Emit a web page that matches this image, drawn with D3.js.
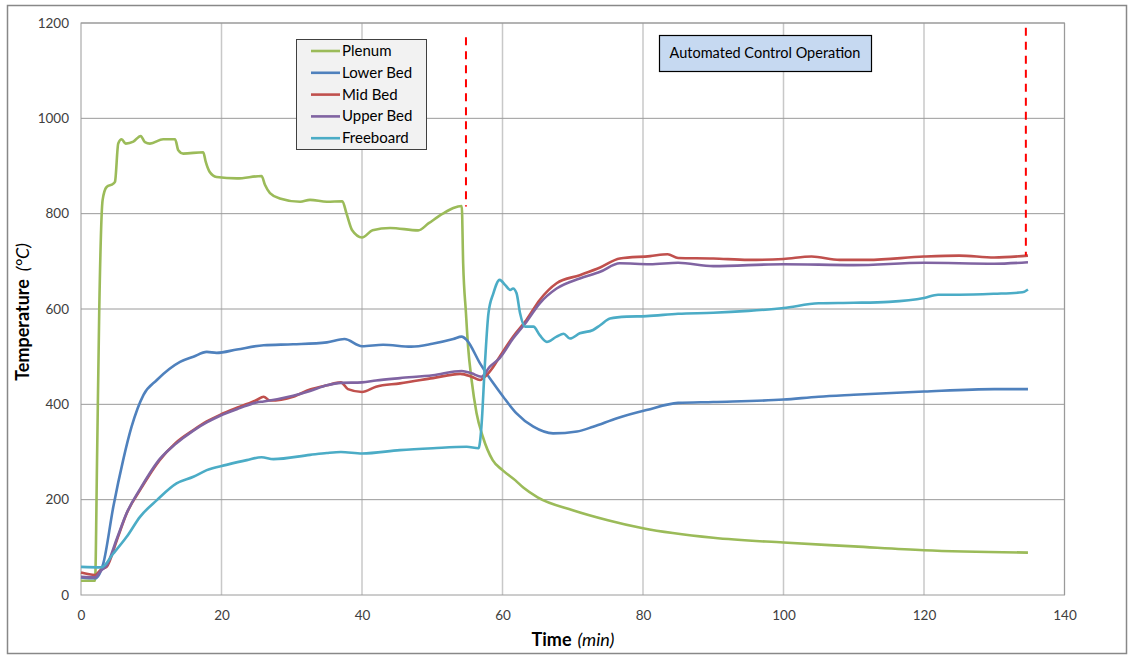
<meta charset="utf-8">
<style>
body { margin: 0; background: #fff; }
text { font-family: Lato, "Open Sans", sans-serif; }
</style>
<body>
<script src="https://cdn.jsdelivr.net/npm/d3@7"></script>
<script>
// series as [time (min), temperature (C)]
var plenum = [[0,30],[2,30],[2.3,300],[2.6,600],[3.08,829],[3.65,856],[4.6,863],[4.84,867],[5.3,947],[5.79,956],[6.36,947],[7.45,951],[8.5,963],[9.1,950],[9.82,947],[11.7,956],[13.4,956],[13.85,933],[14.56,926],[17.4,929],[17.75,909],[18.3,888],[19.3,877],[22.2,874],[25.7,879],[26.2,860],[26.9,843],[28.3,832],[31.2,825],[32.6,829],[35,825],[37.2,826],[37.8,800],[38.6,765],[40,750],[41.5,765],[44,770],[48,765],[49.5,780],[51.5,800],[53,812],[54.2,816],[54.4,696],[54.8,591],[55.1,521],[55.6,451],[56.3,382],[57.2,332],[58.6,283],[60,262],[61.8,241],[63,225],[65,205],[70,178],[75,157],[80,140],[90,120],[100,110],[110,102],[120,94],[134.8,89]];
var lowerBed = [[0,37],[2,35],[3.17,66],[4.6,185],[6,283],[7.2,353],[8.9,420],[10.8,451],[14.1,489],[16,500],[17.9,510],[19.3,508],[22.2,515],[26,524],[30.2,526],[35,530],[37.5,537],[40,522],[43,525],[47,521],[50,527],[53,537],[54.2,542],[54.9,535],[56.8,486],[58.7,444],[60.1,416],[62,381],[64.4,353],[67.2,339],[70.6,343],[72.9,353],[76.3,371],[80.5,388],[85,403],[90,405],[100,410],[105,416],[110,420],[120,427],[130,432],[134.8,432]];
var midBed = [[0,47],[2,42],[2.9,54],[3.65,59],[5.1,115],[6.5,171],[8.4,220],[11.2,283],[13.4,318],[16,346],[17.9,364],[19.8,378],[22.6,395],[25,409],[26,416],[26.9,408],[30.2,416],[32.6,431],[35,440],[37,446],[38,432],[40,426],[42,437],[45.4,444],[50.1,455],[54,464],[55.6,458],[56.8,451],[57.5,458],[58.7,479],[59.6,500],[61.5,542],[63.4,577],[65.3,619],[67.7,654],[71,671],[73.9,687],[76.7,706],[81,711],[83.5,715],[85,707],[90,706],[95,703],[100,705],[104,710],[108,703],[112,703],[120,710],[125,712],[130,708],[134.8,712]];
var upperBed = [[0,38],[2,37],[2.9,52],[3.65,62],[5.1,118],[6.5,172],[8.4,222],[11.2,285],[13.4,316],[16,345],[17.9,362],[19.8,376],[22.6,392],[25,404],[26,406],[30.2,418],[32.6,428],[35,440],[37,445],[40,446],[42,450],[45.4,455],[50.1,461],[54.2,470],[55.6,465],[57,458],[58.2,479],[59.6,497],[61.5,538],[63.4,573],[65.3,612],[67.7,643],[71,664],[73.9,678],[76.7,696],[81,694],[85,697],[90,690],[100,694],[110,692],[120,697],[130,695],[134.8,698]];
var freeboard = [[0,59],[2.9,58],[4.6,87],[6.5,122],[8.4,164],[10.8,199],[13.6,234],[16,248],[17.9,262],[20.7,273],[23.6,283],[25.7,289],[27.4,285],[32.6,294],[35,298],[37,300],[40,297],[45.4,304],[50.1,308],[54.9,311],[56.6,308],[57,353],[57.5,486],[58,591],[58.7,633],[59.6,661],[60.4,650],[61.1,640],[61.5,643],[62,633],[62.5,591],[63.2,563],[64.4,563],[65.3,545],[66.3,531],[67.7,542],[68.7,548],[69.6,538],[71,549],[72.9,556],[73.9,566],[75.3,580],[77.7,584],[80.5,585],[85,590],[90,592],[95,596],[100,602],[105,612],[110,613],[115,615],[120,623],[122,630],[125,630],[130,632],[134,635],[134.8,641]];

var seriesNames = ["Plenum", "Lower Bed", "Mid Bed", "Upper Bed", "Freeboard"];
var seriesColors = ["#9bbb59", "#4f81bd", "#c0504d", "#8064a2", "#4bacc6"];
var seriesData = [plenum, lowerBed, midBed, upperBed, freeboard];

var xTicks = [0, 20, 40, 60, 80, 100, 120, 140];
var yTicks = [0, 200, 400, 600, 800, 1000, 1200];

// control period markers: [time, top, bottom]
var markers = [[54.8, 1170, 815], [134.5, 1190, 712]];
var noteText = "Automated Control Operation";

var W = 1129, H = 656;
var svg = d3.select("body").append("svg")
    .attr("width", W)
    .attr("height", H);

svg.append("rect")
    .attr("x", 7.5).attr("y", 5.5)
    .attr("width", 1119).attr("height", 648)
    .attr("fill", "#fff")
    .attr("stroke", "#888")
    .attr("stroke-width", 1.5);

var x = d3.scaleLinear().domain([0, 140]).range([81, 1064.5]);
var y = d3.scaleLinear().domain([0, 1200]).range([595, 23]);

// gridlines
svg.append("g").selectAll("line")
    .data(xTicks.slice(1))
  .enter().append("line")
    .attr("x1", d => x(d)).attr("x2", d => x(d))
    .attr("y1", y(0)).attr("y2", y(1200))
    .attr("stroke", "#c8c8c8")
    .attr("stroke-width", 1.5);

svg.append("g").selectAll("line")
    .data(yTicks.slice(1))
  .enter().append("line")
    .attr("x1", x(0)).attr("x2", x(140))
    .attr("y1", d => y(d)).attr("y2", d => y(d))
    .attr("stroke", "#9a9a9a")
    .attr("stroke-width", 1);

svg.append("rect")
    .attr("x", x(0)).attr("y", y(1200))
    .attr("width", x(140) - x(0)).attr("height", y(0) - y(1200))
    .attr("fill", "none")
    .attr("stroke", "#9a9a9a");

// axes
var xAxis = svg.append("g")
    .attr("transform", "translate(0," + y(0) + ")")
    .call(d3.axisBottom(x).tickValues(xTicks).tickFormat(d3.format("d")).tickSize(0).tickPadding(15));
var yAxis = svg.append("g")
    .attr("transform", "translate(" + x(0) + ",0)")
    .call(d3.axisLeft(y).tickValues(yTicks).tickFormat(d3.format("d")).tickSize(0).tickPadding(12));
[xAxis, yAxis].forEach(function(a) {
  a.select(".domain").remove();
  a.selectAll("text")
    .style("font-family", "Lato, sans-serif")
    .style("font-size", "13.5px")
    .attr("fill", "#404040");
});

// lines
var line = d3.line()
    .curve(d3.curveMonotoneX)
    .x(d => x(d[0]))
    .y(d => y(d[1]));

seriesData.forEach(function(s, i) {
  svg.append("path")
      .datum(s)
      .attr("fill", "none")
      .attr("stroke", seriesColors[i])
      .attr("stroke-width", 2.6)
      .attr("stroke-linejoin", "round")
      .attr("d", line);
});

// red dashed markers
svg.append("g").selectAll("line")
    .data(markers)
  .enter().append("line")
    .attr("x1", d => x(d[0])).attr("x2", d => x(d[0]))
    .attr("y1", d => y(d[1])).attr("y2", d => y(d[2]))
    .attr("stroke", "#ff0000")
    .attr("stroke-width", 2)
    .attr("stroke-dasharray", "8,6");

// note box
svg.append("rect")
    .attr("x", 659.5).attr("y", 35.5)
    .attr("width", 212).attr("height", 36)
    .attr("fill", "#c6d9f1")
    .attr("stroke", "#000")
    .attr("stroke-width", 1.2);
svg.append("text")
    .attr("x", 765).attr("y", 58)
    .attr("text-anchor", "middle")
    .style("font-size", "14.5px")
    .attr("fill", "#000")
    .text(noteText);

// legend
var legend = svg.append("g");
legend.append("rect")
    .attr("x", 296.5).attr("y", 39.5)
    .attr("width", 130).attr("height", 110)
    .attr("fill", "#f2f2f2")
    .attr("stroke", "#404040");
seriesNames.forEach(function(n, i) {
  var ly = 51 + i * 21.8;
  legend.append("line")
      .attr("x1", 311).attr("x2", 340)
      .attr("y1", ly).attr("y2", ly)
      .attr("stroke", seriesColors[i])
      .attr("stroke-width", 2.6);
  legend.append("text")
      .attr("x", 342).attr("y", ly + 5)
      .style("font-size", "15px")
      .attr("fill", "#000")
      .text(n);
});

// axis titles
var xt = svg.append("text")
    .attr("x", 573).attr("y", 646)
    .attr("text-anchor", "middle")
    .style("font-size", "18px")
    .attr("fill", "#000");
xt.append("tspan").style("font-weight", "bold").text("Time");
xt.append("tspan").attr("dx", 6).style("font-style", "italic").text("(min)");

var yt = svg.append("text")
    .attr("transform", "translate(29,312) rotate(-90)")
    .attr("text-anchor", "middle")
    .style("font-size", "18px")
    .attr("fill", "#000");
yt.append("tspan").style("font-weight", "bold").text("Temperature");
yt.append("tspan").attr("dx", 8).style("font-style", "italic").text("(°C)");
</script>
</body>
